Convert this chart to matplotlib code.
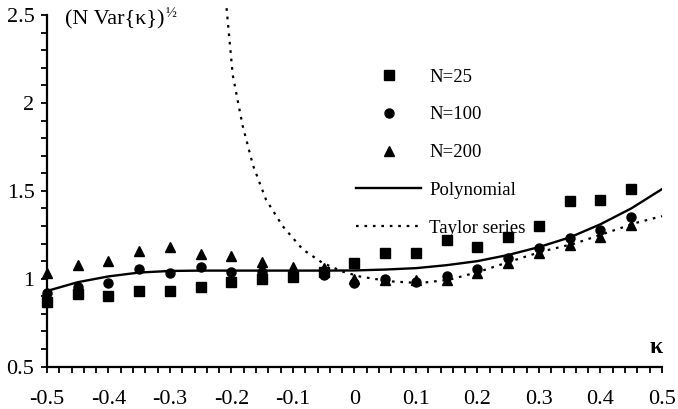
import numpy as np
import matplotlib.pyplot as plt
from matplotlib.ticker import MultipleLocator

plt.rcParams['font.family'] = ['Liberation Serif', 'DejaVu Serif']

# kappa grid for the simulated points
kappa = [-0.5, -0.45, -0.4, -0.35, -0.3, -0.25, -0.2, -0.15, -0.1, -0.05,
         0.0, 0.05, 0.1, 0.15, 0.2, 0.25, 0.3, 0.35, 0.4, 0.45]

n25 = [0.87, 0.91, 0.90, 0.93, 0.93, 0.955, 0.983, 1.0, 1.01, 1.04,
       1.09, 1.145, 1.145, 1.22, 1.183, 1.24, 1.30, 1.444, 1.45, 1.51]
n100 = [0.917, 0.955, 0.974, 1.054, 1.031, 1.069, 1.04, 1.04, 1.02, 1.02,
        0.978, 1.0, 0.983, 1.016, 1.054, 1.117, 1.174, 1.23, 1.278, 1.354]
n200 = [1.031, 1.079, 1.103, 1.155, 1.183, 1.14, 1.13, 1.097, 1.069, 1.06,
        1.0, 0.993, 0.99, 0.993, 1.03, 1.088, 1.145, 1.193, 1.24, 1.307]

# polynomial approximation curve
poly_x = [-0.5, -0.45, -0.4, -0.35, -0.3, -0.25, -0.2, -0.15, -0.1, -0.05,
          0.0, 0.05, 0.1, 0.15, 0.2, 0.25, 0.3, 0.35, 0.4, 0.45, 0.5]
poly_y = [0.93, 0.98, 1.013, 1.035, 1.044, 1.046, 1.046, 1.046, 1.046, 1.046,
          1.047, 1.052, 1.06, 1.077, 1.10, 1.135, 1.18, 1.235, 1.31, 1.40, 1.51]

# Taylor series curve
taylor_x = [-0.208, -0.198, -0.182, -0.165, -0.144, -0.117, -0.084, -0.052,
            -0.019, 0.008, 0.057, 0.106, 0.154, 0.203, 0.255, 0.306, 0.358,
            0.409, 0.458, 0.5]
taylor_y = [2.54, 2.16, 1.873, 1.645, 1.451, 1.30, 1.166, 1.09,
            1.04, 1.013, 0.985, 0.975, 0.994, 1.04, 1.10, 1.156, 1.20,
            1.26, 1.318, 1.356]

x_ticks = [-0.5, -0.4, -0.3, -0.2, -0.1, 0.0, 0.1, 0.2, 0.3, 0.4, 0.5]
x_labels = ['-0.5', '-0.4', '-0.3', '-0.2', '-0.1', '0', '0.1', '0.2', '0.3', '0.4', '0.5']
y_ticks = [0.5, 1.0, 1.5, 2.0, 2.5]
y_labels = ['0.5', '1', '1.5', '2', '2.5']

fig = plt.figure(figsize=(6.78, 4.09), dpi=100)
ax = fig.add_axes([0.0693, 0.1039, 0.9071, 0.8589])

ax.plot(kappa, n25, 's', color='black', markersize=6.5, label='N=25', clip_on=False)
ax.plot(kappa, n100, 'o', color='black', markersize=6.5, label='N=100', clip_on=False)
ax.plot(kappa, n200, '^', color='black', markersize=6.5, label='N=200', clip_on=False)
ax.plot(poly_x, poly_y, '-', color='black', linewidth=1.7, label='Polynomial')
ax.plot(taylor_x, taylor_y, color='black', linewidth=1.6,
        linestyle=(0, (1.2, 2.6)), label='Taylor series', clip_on=False)

ax.set_xlim(-0.5, 0.5)
ax.set_ylim(0.5, 2.5)
ax.set_xticks(x_ticks)
ax.set_xticklabels(x_labels)
ax.set_yticks(y_ticks)
ax.set_yticklabels(y_labels)
ax.xaxis.set_minor_locator(MultipleLocator(0.02))
ax.yaxis.set_minor_locator(MultipleLocator(0.1))
ax.tick_params(which='both', direction='out', width=1.3, length=4, labelsize=16)
ax.tick_params(axis='x', pad=13)
ax.tick_params(axis='y', pad=5)

for s in ['top', 'right']:
    ax.spines[s].set_visible(False)
for s in ['left', 'bottom']:
    ax.spines[s].set_linewidth(1.6)

# y-axis title with a small superscript 1/2 placed right after it
t = ax.text(0.03, 2.475, '(N Var{κ})', fontsize=16, ha='left', va='center',
            transform=ax.get_yaxis_transform())
fig.canvas.draw()
bb = t.get_window_extent()
fig.text(bb.x1 / fig.bbox.width + 0.001, (bb.y1 - 4) / fig.bbox.height, '½',
         fontsize=10.5, ha='left', va='center')

ax.text(0.49, 0.61, 'κ', fontsize=17, fontweight='bold', ha='center', va='center')

leg = ax.legend(loc='upper left', bbox_to_anchor=(0.487, 0.875), frameon=False,
                fontsize=13.5, handlelength=3.5, labelspacing=1.1, handletextpad=0.4,
                numpoints=1, borderpad=0)

fig.savefig('out.png', dpi=100)
